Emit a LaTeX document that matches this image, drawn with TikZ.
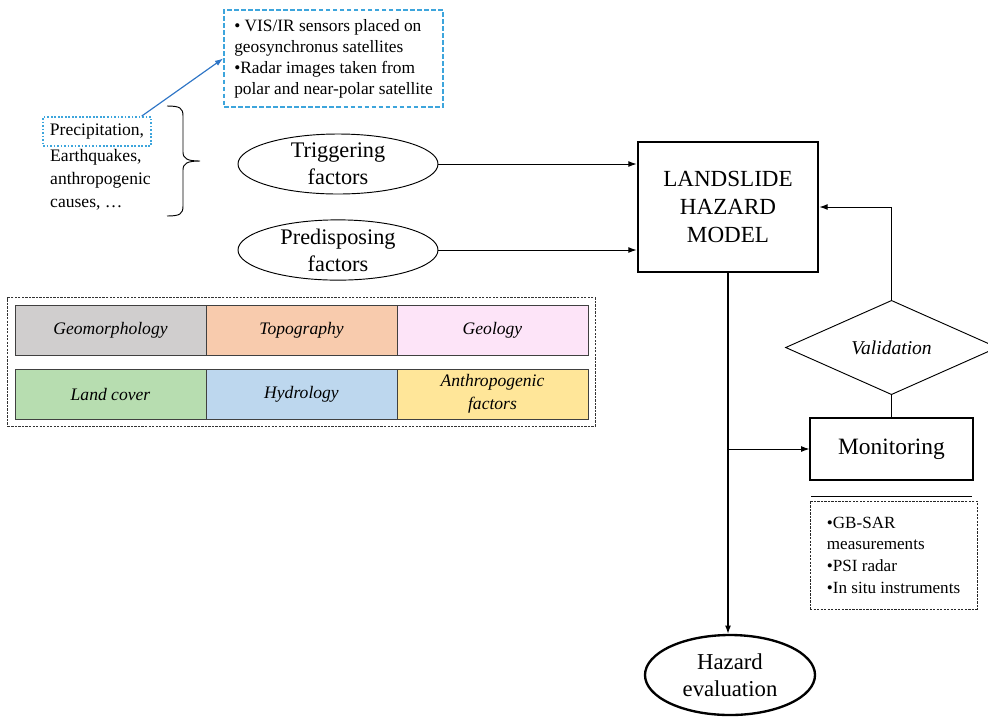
\documentclass[tikz,border=0pt]{standalone}
\usepackage{fontspec}
\setmainfont{Liberation Serif}
\usetikzlibrary{shapes.geometric,arrows.meta,fit,positioning}

\definecolor{geomorc}{HTML}{D0CECE}
\definecolor{topoc}{HTML}{F8CBAD}
\definecolor{geolc}{HTML}{FDE4F8}
\definecolor{landc}{HTML}{B7DDB0}
\definecolor{hydc}{HTML}{BDD7EE}
\definecolor{anthc}{HTML}{FFE699}
\definecolor{satblue}{HTML}{3DA5DC}
\definecolor{arrblue}{HTML}{2E75C6}

\tikzset{
  factor/.style={ellipse, draw, line width=0.8pt, minimum width=6cm, minimum height=1.8cm,
    inner sep=0pt, align=center, font=\fontsize{19}{23}\selectfont},
  cell/.style={draw=black!75, line width=0.7pt, minimum width=5.73cm, minimum height=1.5cm,
    inner sep=0pt, align=center, font=\fontsize{15}{19.5}\selectfont\itshape},
  smalltxt/.style={font=\fontsize{15}{19.5}\selectfont},
  arr/.style={-{Latex[length=7pt,width=5pt]}, line width=0.8pt},
}

\begin{document}
\begin{tikzpicture}[x=0.03cm,y=-0.03cm]
\useasboundingbox (0,0) rectangle (988,716);

\node[draw=satblue, line width=1.5pt, dash pattern=on 4pt off 2pt, align=left,
  minimum width=6.57cm, minimum height=2.91cm, inner sep=0pt,
  font=\fontsize{14.8}{18}\selectfont] (sat) at (333.5,58.5)
  {• VIS/IR sensors placed on\\geosynchronus satellites\\•Radar images taken from\\polar and near-polar satellite};

\node[draw=satblue, line width=1.5pt, dash pattern=on 1.5pt off 1.5pt, smalltxt,
  minimum width=3.24cm, minimum height=0.87cm, inner sep=0pt] (prec) at (97,131.5) {Precipitation,};
\node[smalltxt, anchor=north west, align=left, inner sep=0pt] (causes) at (50,149)
  {Earthquakes,\\anthropogenic\\causes, \dots};
\draw[-{Latex[length=7pt,width=5pt]}, arrblue, line width=1pt] (prec.19) -- (sat.west);

\draw[line width=0.8pt] (167,106) .. controls (180,106) and (183,108) .. (183,116) -- (183,152)
  .. controls (183,159) and (188,161) .. (200,161) .. controls (188,161) and (183,163) .. (183,170)
  -- (183,206) .. controls (183,214) and (180,216) .. (167,216);

\node[factor] (trig) at (338,164) {Triggering\\factors};
\node[factor] (pred) at (338,250) {Predisposing\\factors};

\node[draw, line width=2.4pt, minimum width=5.4cm, minimum height=3.9cm, align=center,
  font=\fontsize{19.7}{24}\selectfont] (model) at (728,207) {LANDSLIDE\\HAZARD\\MODEL};

\foreach \name/\x/\y/\col/\txt in {geomor/110.5/330/geomorc/Geomorphology,topo/301.5/330/topoc/Topography,
  geol/492.5/330/geolc/Geology,land/110.5/394/landc/Land cover,hyd/301.5/394/hydc/Hydrology,
  anth/492.5/394/anthc/{Anthropogenic\\factors}}
\node[cell, fill=\col] (\name) at (\x,\y) {\txt};
\node[draw=black!80, line width=0.8pt, dash pattern=on 2pt off 1pt, inner sep=0.2cm,
  fit=(geomor)(anth)] (factors) {};

\node[draw, ellipse, line width=2pt, minimum width=5.1cm, minimum height=2.4cm, inner sep=0pt,
  align=center, font=\fontsize{19.4}{23}\selectfont] (haz) at (730,675) {Hazard\\evaluation};

\node[draw, line width=1pt, minimum width=4.89cm, minimum height=1.86cm,
  font=\fontsize{20}{23}\selectfont] (mon) at (891.5,449) {Monitoring};
\node[draw, diamond, line width=0.8pt, minimum width=6.36cm, minimum height=2.07cm, inner sep=0pt,
  font=\fontsize{16.7}{19}\selectfont\itshape] (val) at (891.5,347.5) {Validation};

\node[draw=black!85, line width=0.8pt, dash pattern=on 2pt off 1pt, align=left,
  minimum width=5.01cm, minimum height=3.24cm, inner sep=0pt,
  font=\fontsize{14.6}{18.5}\selectfont] (meth) at (893.5,555)
  {•GB-SAR\\measurements\\•PSI radar\\•In situ instruments};
\draw[line width=1.3pt] (mon.south west) ++(2,16) -- ++(161,0);

\foreach \from in {trig,pred}
\draw[arr] (\from.east) -- (\from.east -| model.west);
\draw[arr, line width=1pt] (model.south) -- (model.south |- haz.north);
\coordinate (br) at (model.south |- mon.west);
\draw[arr] (br) -- (mon.west);
\draw[line width=0.8pt] (mon.north) -- (val.south);
\draw[arr] (val.north) |- (model.east);
\end{tikzpicture}
\end{document}
